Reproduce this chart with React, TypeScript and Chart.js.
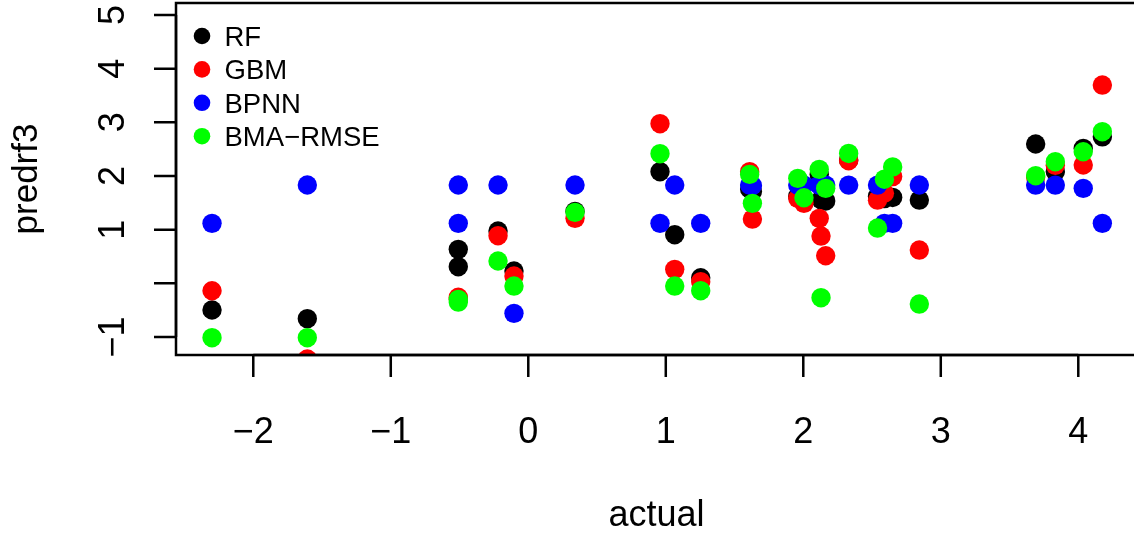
import { useEffect, useRef } from "react";
import { Chart, registerables } from "chart.js";

Chart.register(...registerables);

const actual = [-2.30, -1.607, -0.509, -0.509, -0.22, -0.104, 0.34, 0.958, 1.065, 1.254, 1.61, 1.63, 1.96, 2.005, 2.116, 2.129, 2.163, 2.33, 2.54, 2.59, 2.65, 2.844, 3.69, 3.833, 4.036, 4.175];
const rf = [-0.497, -0.659, 0.633, 0.31, 0.974, 0.229, 1.34, 2.08, 0.906, 0.104, 1.76, 1.71, 1.62, 1.55, 2.03, 1.56, 1.535, 2.3, 1.62, 1.58, 1.6, 1.552, 2.596, 2.08, 2.515, 2.73];
const gbm = [-0.138, -1.41, -0.26, -0.29, 0.887, 0.136, 1.211, 2.974, 0.261, 0.03, 2.08, 1.198, 1.584, 1.49, 1.211, 0.881, 0.514, 2.285, 1.55, 1.68, 1.99, 0.62, 1.98, 2.2, 2.205, 3.695];
const bpnn = [1.118, 1.832, 1.832, 1.118, 1.832, -0.559, 1.832, 1.118, 1.832, 1.118, 1.83, 1.82, 1.83, 1.83, 1.83, 1.83, 1.83, 1.83, 1.83, 1.118, 1.118, 1.832, 1.83, 1.83, 1.77, 1.118];
const bma = [-1.013, -1.013, -0.30, -0.35, 0.416, -0.05, 1.323, 2.415, -0.05, -0.137, 2.03, 1.49, 1.956, 1.595, 2.124, -0.268, 1.77, 2.42, 1.03, 1.94, 2.17, -0.386, 2.005, 2.266, 2.452, 2.825];

const seriesNames = ["RF", "GBM", "BPNN", "BMA\u2212RMSE"];
const seriesColors = ["#000000", "#FF0000", "#0000FF", "#00FF00"];
const seriesValues = [rf, gbm, bpnn, bma];

const xTickValues = [-2, -1, 0, 1, 2, 3, 4];
const xTickLabels = ["\u22122", "\u22121", "0", "1", "2", "3", "4"];
const yTickValues = [-1, 0, 1, 2, 3, 4, 5];
const yTickLabels = ["\u22121", "", "1", "2", "3", "4", "5"];
const xTitle = "actual";
const yTitle = "predrf3";

const FONT = "'Liberation Sans', Arial, Helvetica, sans-serif";
const CW = 1142;
const CH = 533;

const rAxesPlugin = {
  id: "rAxes",
  afterDraw(chart: any) {
    const { ctx, chartArea: a } = chart;
    const x = chart.scales.x;
    const y = chart.scales.y;
    ctx.save();
    ctx.strokeStyle = "#000";
    ctx.lineWidth = 2.5;
    ctx.lineCap = "butt";
    ctx.strokeRect(a.left, a.top, a.right - a.left, a.bottom - a.top);

    ctx.beginPath();
    const xa = x.getPixelForValue(xTickValues[0]);
    const xb = x.getPixelForValue(xTickValues[xTickValues.length - 1]);
    ctx.moveTo(xa, a.bottom);
    ctx.lineTo(xb, a.bottom);
    xTickValues.forEach((v) => {
      const px = x.getPixelForValue(v);
      ctx.moveTo(px, a.bottom);
      ctx.lineTo(px, a.bottom + 22);
    });
    const ya = y.getPixelForValue(yTickValues[0]);
    const yb = y.getPixelForValue(yTickValues[yTickValues.length - 1]);
    ctx.moveTo(a.left, ya);
    ctx.lineTo(a.left, yb);
    yTickValues.forEach((v) => {
      const py = y.getPixelForValue(v);
      ctx.moveTo(a.left, py);
      ctx.lineTo(a.left - 22, py);
    });
    ctx.stroke();

    ctx.fillStyle = "#000";
    ctx.font = `36px ${FONT}`;
    ctx.textAlign = "center";
    ctx.textBaseline = "alphabetic";
    xTickValues.forEach((v, i) => {
      ctx.fillText(xTickLabels[i], x.getPixelForValue(v), a.bottom + 88);
    });
    yTickValues.forEach((v, i) => {
      const py = y.getPixelForValue(v);
      ctx.save();
      ctx.translate(a.left - 52.5, py);
      ctx.rotate(-Math.PI / 2);
      ctx.fillText(yTickLabels[i], 0, 0);
      ctx.restore();
    });

    ctx.font = `36px ${FONT}`;
    ctx.fillText(xTitle, (a.left + a.right) / 2, a.bottom + 170.5);
    ctx.save();
    ctx.font = `35px ${FONT}`;
    ctx.translate(a.left - 139, (a.top + a.bottom) / 2);
    ctx.rotate(-Math.PI / 2);
    ctx.fillText(yTitle, 0, 0);
    ctx.restore();

    // legend
    ctx.font = `27.5px ${FONT}`;
    ctx.textAlign = "left";
    seriesNames.forEach((name, i) => {
      const cy = a.top + 33 + i * 33.4;
      ctx.beginPath();
      ctx.fillStyle = seriesColors[i];
      ctx.arc(a.left + 26, cy, 8.3, 0, Math.PI * 2);
      ctx.fill();
      ctx.fillStyle = "#000";
      ctx.fillText(name, a.left + 48.5, cy + 9.7);
    });
    ctx.restore();
  },
};

export default function App() {
  const ref = useRef<HTMLCanvasElement | null>(null);
  useEffect(() => {
    if (!ref.current) return;
    const datasets = seriesNames.map((name, i) => ({
      label: name,
      data: actual.map((a, j) => ({ x: a, y: seriesValues[i][j] })),
      backgroundColor: seriesColors[i],
      borderColor: seriesColors[i],
      borderWidth: 0,
      pointRadius: 9.7,
      pointHoverRadius: 9.7,
      showLine: false,
      clip: 0,
      order: 4 - i,
    }));
    const chart = new Chart(ref.current, {
      type: "scatter",
      data: { datasets },
      options: {
        animation: false,
        responsive: false,
        maintainAspectRatio: false,
        devicePixelRatio: 1,
        layout: { autoPadding: false, padding: { left: 176, top: 3, right: 5, bottom: 178 } },
        plugins: { legend: { display: false }, tooltip: { enabled: false } },
        events: [],
        scales: {
          x: { type: "linear", min: -2.562, max: 4.427, display: false },
          y: { type: "linear", min: -1.3354, max: 5.2236, display: false },
        },
      },
      plugins: [rAxesPlugin],
    });
    return () => chart.destroy();
  }, []);
  return (
    <div style={{ position: "fixed", left: 0, top: 0, width: 1134, height: CH, overflow: "hidden", background: "#fff" }}>
      <div style={{ position: "absolute", left: 0, top: 0, width: CW, height: CH }}>
        <canvas ref={ref} width={CW} height={CH} style={{ display: "block", width: CW, height: CH }} />
      </div>
    </div>
  );
}
